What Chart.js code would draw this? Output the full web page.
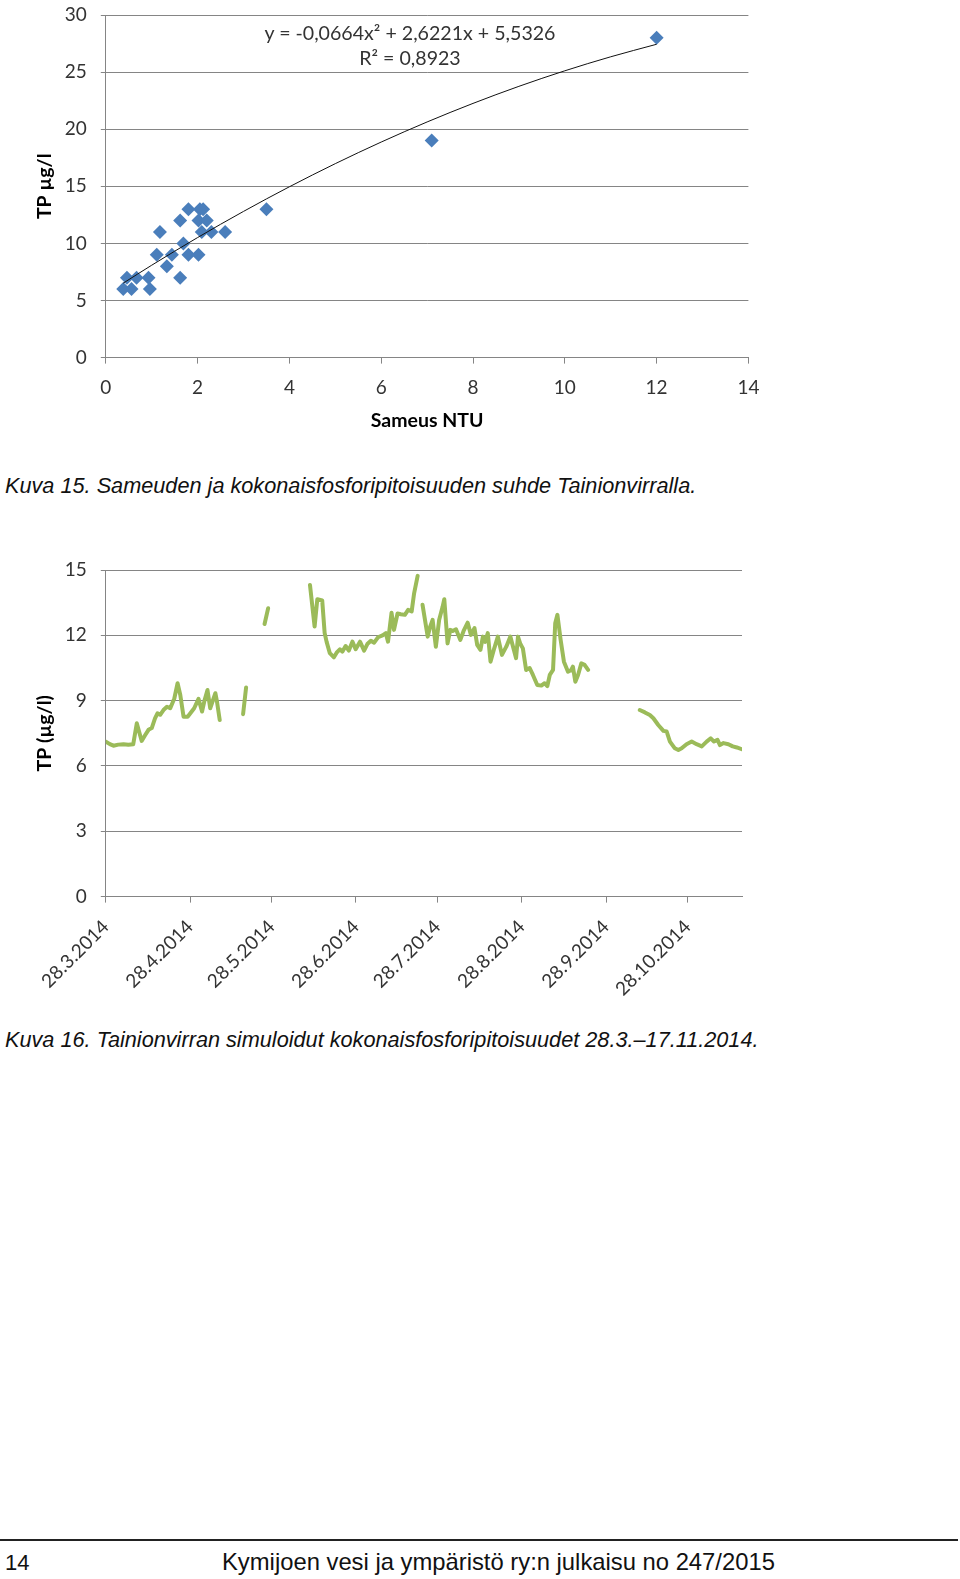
<!DOCTYPE html>
<html lang="fi">
<head>
<meta charset="utf-8">
<title>Tainionvirta – sameus ja kokonaisfosfori</title>
<script src="https://cdn.jsdelivr.net/npm/chart.js@4.4.1/dist/chart.umd.min.js"></script>
<style>
    html, body { margin: 0; padding: 0; background: #fff; }
    .page { position: relative; width: 960px; height: 1579px; overflow: hidden; font-family: 'Liberation Sans', Arial, sans-serif; color: #111; }
    .chart-box { position: absolute; left: 0; width: 780px; }
    #scatterBox { top: 0; height: 440px; }
    #lineBox { top: 540px; height: 470px; }
    .equation { position: absolute; left: 0; width: 820px; top: 20px; text-align: center; font-family: Lato, sans-serif; font-size: 19.6px; line-height: 25px; color: #333; }
    .caption { position: absolute; left: 5px; font-style: italic; font-size: 21.7px; line-height: 26px; white-space: nowrap; }
    #caption15 { top: 473px; }
    #caption16 { top: 1027px; }
    .footer-rule { position: absolute; left: 0; top: 1539px; width: 958px; height: 2px; background: #222; }
    .footer { position: absolute; top: 1550px; font-size: 22px; line-height: 26px; white-space: nowrap; }
    #pageNo { left: 5px; }
    #publication { left: 222px; font-size: 23.8px; top: 1549px; }
</style>
</head>
<body>
<div class="page">
    <div class="chart-box" id="scatterBox"><canvas id="scatterChart" width="780" height="440"></canvas></div>
    <div class="equation">y = -0,0664x² + 2,6221x + 5,5326<br>R² = 0,8923</div>
    <div class="caption" id="caption15">Kuva 15. Sameuden ja kokonaisfosforipitoisuuden suhde Tainionvirralla.</div>

    <div class="chart-box" id="lineBox"><canvas id="lineChart" width="780" height="470"></canvas></div>
    <div class="caption" id="caption16">Kuva 16. Tainionvirran simuloidut kokonaisfosforipitoisuudet 28.3.–17.11.2014.</div>

    <div class="footer-rule"></div>
    <div class="footer" id="pageNo">14</div>
    <div class="footer" id="publication">Kymijoen vesi ja ympäristö ry:n julkaisu no 247/2015</div>
</div>

<script>
// Kuva 15 - measured turbidity (NTU) vs. total phosphorus (µg/l)
const turbidityNtu = [0.38, 0.56, 0.96, 0.46, 0.67, 0.93, 1.62, 1.33, 1.11, 1.44, 1.80, 2.02, 1.69,
    1.18, 2.09, 2.30, 2.60, 1.62, 2.02, 2.20, 1.80, 2.05, 2.12, 3.50, 7.10, 12.0];
const tpMeasured = [6, 6, 6, 7, 7, 7, 7, 8, 9, 9, 9, 9, 10,
    11, 11, 11, 11, 12, 12, 12, 13, 13, 13, 13, 19, 28];

// trendline as printed in the chart: y = a*x^2 + b*x + c
const trendCoef = [-0.0664, 2.6221, 5.5326];
const trendX = [0.38, 1, 2, 3, 4, 5, 6, 7, 8, 9, 10, 11, 12];

const scatterXTicks = [0, 14, 2];   // min, max, step
const scatterYTicks = [0, 30, 5];

// Kuva 16 - simulated TP, days counted from 28.3.2014 (null = gap in the series)
const tpDay = [0, 1.5, 2.8, 4.6, 6.5, 8.3, 10.1, 11.4, 13.2, 14.5, 15.7, 16.9, 18.1, 19.0, 20.0,
    21.2, 22.5, 23.7, 25.2, 26.4, 27.4, 28.6, 30.1, 31.1, 32.5, 34.1, 35.4, 36.3, 37.4, 38.4,
    40.3, 40.9, 41.9, 46,
    50.5, 51.6, 55,
    58.4, 59.7, 67,
    75.1, 76.8, 77.8, 79.6, 80.5, 81.2, 82.4, 83.9, 84.9, 86.1, 87.0, 88.2, 89.4, 90.7, 91.9,
    93.5, 95.0, 96.2, 97.5, 98.7, 100.1, 101.8, 103.0, 103.8, 105.1, 106.0, 107.3, 108.5, 110.0,
    111.2, 112.5, 113.4, 114.7, 115.6,
    116.5, 118.4, 119.3, 120.2, 121.4, 122.6, 123.9, 124.5, 125.7, 126.7, 127.6, 128.8, 130.4,
    131.6, 133.1, 134.3, 135.6, 136.6, 137.8, 138.7, 139.5, 140.5, 141.5, 142.7, 144.2, 145.7,
    147.3, 148.8, 150.1, 150.9, 151.6, 152.5, 153.4, 154.6, 155.9, 157.1, 158.7, 160.2, 161.4,
    162.4, 163.3, 164.5, 165.3, 166.1, 167.3, 168.5, 170.0, 171.2, 171.8, 172.7, 173.7, 174.9,
    176.1, 177.4, 186,
    196.4, 198.3, 200.1, 201.4, 203.2, 205.1, 206.3, 207.5, 209.3, 210.6, 211.8, 213.6, 215.5,
    217.3, 219.2, 221.0, 222.5, 223.7, 225.0, 225.9, 227.2, 229.0, 230.6, 232.1, 233.9];
const tpValue = [7.12, 7.0, 6.93, 6.98, 7.0, 6.97, 7.0, 7.96, 7.15, 7.42, 7.66, 7.74, 8.19, 8.42, 8.35,
    8.57, 8.72, 8.65, 9.1, 9.8, 9.26, 8.26, 8.26, 8.42, 8.65, 9.08, 8.5, 9.0, 9.49, 8.65,
    9.34, 8.95, 8.11, null,
    8.38, 9.6, null,
    12.52, 13.24, null,
    14.31, 12.4, 13.66, 13.6, 12.1, 11.71, 11.18, 10.99, 11.2, 11.36, 11.25, 11.51, 11.3, 11.71, 11.36,
    11.71, 11.3, 11.6, 11.75, 11.66, 11.91, 12.0, 12.1, 11.71, 13.04, 12.25, 13.0, 12.97, 12.94,
    13.17, 13.1, 13.93, 14.73, null,
    13.4, 11.94, 12.4, 12.71, 11.48, 12.7, 13.32, 13.66, 11.63, 12.25, 12.2, 12.28, 11.79,
    12.2, 12.58, 12.02, 12.33, 11.56, 11.33, 11.94, 11.7, 12.1, 10.79, 11.33, 11.94, 11.1,
    11.48, 11.94, 11.33, 10.95, 11.94, 11.6, 11.4, 10.41, 10.5, 10.18, 9.72, 9.69, 9.8,
    9.67, 10.18, 10.41, 12.55, 12.94, 11.79, 10.79, 10.33, 10.41, 10.56, 9.87, 10.18, 10.71,
    10.64, 10.41, null,
    8.57, 8.46, 8.34, 8.19, 7.88, 7.61, 7.58, 7.12, 6.81, 6.73, 6.81, 7.0, 7.12,
    7.0, 6.9, 7.12, 7.27, 7.12, 7.2, 6.96, 7.05, 7.0, 6.9, 6.85, 6.77];

const dateTickLabels = ['28.3.2014', '28.4.2014', '28.5.2014', '28.6.2014', '28.7.2014',
    '28.8.2014', '28.9.2014', '28.10.2014'];
const seriesStart = '28.3.2014';
const seriesEnd = '17.11.2014';
const lineYTicks = [0, 15, 3];

const GRID = '#858585';
const TICK_TEXT = '#333333';
const TITLE_SIZE = 19.5;

Chart.defaults.font.family = 'Lato, sans-serif';
Chart.defaults.color = TICK_TEXT;

function dayOffset(label) {
    const p = label.split('.').map(Number);
    const s = seriesStart.split('.').map(Number);
    return Math.round((Date.UTC(p[2], p[1] - 1, p[0]) - Date.UTC(s[2], s[1] - 1, s[0])) / 86400000);
}

// common y axis styling, Excel-like grey axes with short outside ticks
function valueAxis(range, title, width) {
    return {
        type: 'linear',
        min: range[0],
        max: range[1],
        ticks: { stepSize: range[2], padding: 14, color: TICK_TEXT, font: { size: 19 } },
        grid: { color: GRID, lineWidth: 1, tickLength: 5 },
        border: { color: GRID, width: 1 },
        title: {
            display: true,
            text: title,
            color: '#000',
            font: { size: TITLE_SIZE, weight: 'bold' },
            padding: { top: 33.5, bottom: 0 }
        },
        afterFit: (scale) => {
            scale.width = width;
            // keep the top label from pushing the plot area down
            scale.paddingTop = 10;
        }
    };
}

function initScatterChart() {
    const ctx = document.getElementById('scatterChart');
    const points = turbidityNtu.map((x, i) => ({ x: x, y: tpMeasured[i] }));
    const trend = trendX.map(x => ({
        x: x,
        y: trendCoef[0] * x * x + trendCoef[1] * x + trendCoef[2]
    }));

    new Chart(ctx, {
        type: 'scatter',
        data: {
            datasets: [{
                label: 'Trendi',
                data: trend,
                showLine: true,
                borderColor: '#111',
                borderWidth: 1,
                pointRadius: 0,
                cubicInterpolationMode: 'monotone'
            }, {
                label: 'TP',
                data: points,
                pointStyle: 'rectRot',
                pointRadius: 7,
                backgroundColor: '#4A7EBB',
                borderColor: '#4A7EBB',
                borderWidth: 0
            }]
        },
        options: {
            responsive: false,
            animation: false,
            layout: { padding: { top: 15, right: 31.6, left: 0, bottom: 0 } },
            plugins: { legend: { display: false }, tooltip: { enabled: false } },
            scales: {
                x: {
                    type: 'linear',
                    min: scatterXTicks[0],
                    max: scatterXTicks[1],
                    ticks: { stepSize: scatterXTicks[2], padding: 13, color: TICK_TEXT, font: { size: 19 } },
                    grid: { drawOnChartArea: false, color: GRID, tickLength: 6 },
                    border: { color: GRID, width: 1 },
                    title: {
                        display: true,
                        text: 'Sameus NTU',
                        color: '#000',
                        font: { size: TITLE_SIZE, weight: 'bold' },
                        padding: { top: 0, bottom: 8 }
                    },
                    afterFit: (scale) => { scale.height = 82.4; }
                },
                y: valueAxis(scatterYTicks, 'TP µg/l', 105.8)
            }
        }
    });
}

function initLineChart() {
    const ctx = document.getElementById('lineChart');
    const series = tpDay.map((d, i) => ({ x: d, y: tpValue[i] }));
    const tickDays = dateTickLabels.map(dayOffset);

    new Chart(ctx, {
        type: 'line',
        data: {
            datasets: [{
                label: 'TP (µg/l)',
                data: series,
                borderColor: '#9BBB59',
                borderWidth: 4,
                pointRadius: 0,
                tension: 0,
                spanGaps: false,
                borderJoinStyle: 'round',
                borderCapStyle: 'round'
            }]
        },
        options: {
            responsive: false,
            animation: false,
            layout: { padding: { top: 30, right: 38, left: 0, bottom: 0 } },
            plugins: { legend: { display: false }, tooltip: { enabled: false } },
            scales: {
                x: {
                    type: 'linear',
                    min: 0,
                    max: dayOffset(seriesEnd),
                    afterBuildTicks: (scale) => {
                        scale.ticks = tickDays.map(v => ({ value: v }));
                    },
                    ticks: {
                        autoSkip: false,
                        minRotation: 45,
                        maxRotation: 45,
                        padding: 13,
                        color: TICK_TEXT,
                        font: { size: 19 },
                        callback: (value) => dateTickLabels[tickDays.indexOf(value)]
                    },
                    grid: { drawOnChartArea: false, color: GRID, tickLength: 6 },
                    border: { color: GRID, width: 1 },
                    afterFit: (scale) => { scale.height = 113.4; }
                },
                y: valueAxis(lineYTicks, 'TP (µg/l)', 105.8)
            }
        }
    });
}

document.addEventListener('DOMContentLoaded', function() {
    initScatterChart();
    initLineChart();
});
</script>
</body>
</html>
